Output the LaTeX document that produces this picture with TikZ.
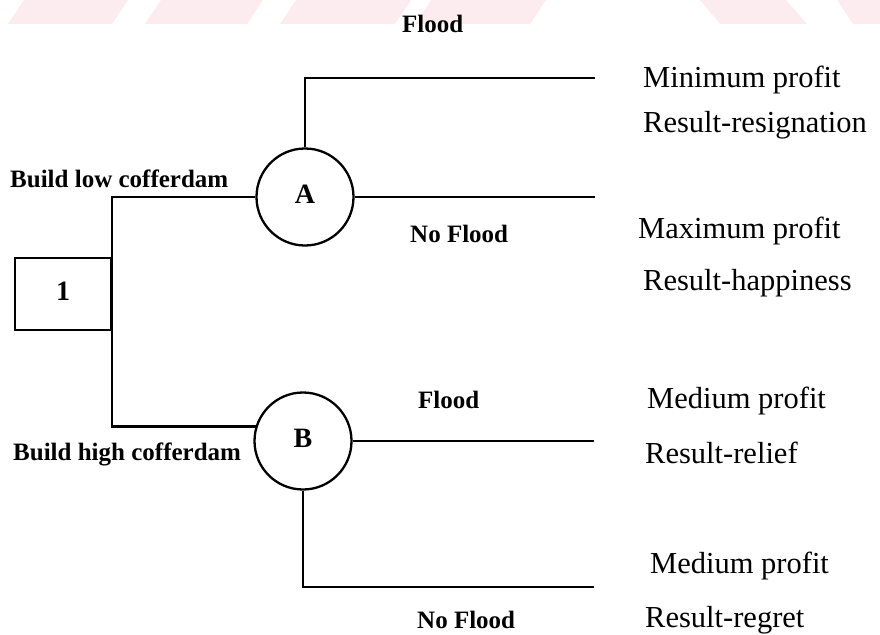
\documentclass[tikz,border=0pt]{standalone}
\usepackage{fontspec}
\setmainfont{Liberation Serif}
\definecolor{stripe}{HTML}{FDECEF}
\tikzset{
  branch/.style={line width=2.3pt},
  chance/.style={draw, circle, line width=2.3pt, minimum size=97pt, inner sep=0pt, font=\fontsize{28}{32}\selectfont\bfseries},
  decision/.style={draw, rectangle, line width=2.3pt, minimum width=96pt, minimum height=72pt, inner sep=0pt, font=\fontsize{28}{32}\selectfont\bfseries},
  act/.style={anchor=base west, inner sep=0pt, font=\fontsize{25}{30}\selectfont\bfseries},
  outcome/.style={anchor=base west, inner sep=0pt, font=\fontsize{30.5}{36}\selectfont},
}

\begin{document}
\begin{tikzpicture}[x=1pt, y=-1pt]
      \useasboundingbox (0,0) rectangle (880,634);
      % watermark
      \foreach \s/\e in {8/112, 145/247, 280/395, 415/530}
        \fill[stripe] (\s,24) -- (\s+16,0) -- (\e+16,0) -- (\e,24) -- cycle;
      \fill[stripe] (720,24) -- (700,0) -- (786,0) -- (807,24) -- cycle;
      \fill[stripe] (853,24) -- (837,0) -- (880,0) -- (880,24) -- cycle;
      % nodes
      \node[decision] (one) at (63,294) {\raisebox{6pt}{1}};
      \node[chance] (A) at (305,197) {\raisebox{6pt}{A}};
      \node[chance] (B) at (303,441) {\raisebox{6pt}{B}};
      \coordinate (A1) at (595,78);
      \coordinate (A2) at (595,197);
      \coordinate (B1) at (594,441);
      \coordinate (B2) at (594,587);
      % lines
      \draw[branch] (A.west) -- (A.west -| one.east) -- (B.163 -| one.east) -- (B.163);
      \draw[branch] (A.north) |- (A1);
      \draw[branch] (A.east) -- (A2);
      \draw[branch] (B.east) -- (B.east -| B1);
      \draw[branch] (B.south) |- (B2);
      % labels
      \node[act] (flood1) at (402,33) {Flood};
      \node[act] (low) at (10,187) {Build low cofferdam};
      \node[act] (noflood1) at (410,242) {No Flood};
      \node[act] (flood2) at (418,408) {Flood};
      \node[act] (high) at (13,460) {Build high cofferdam};
      \node[act] (noflood2) at (417,628) {No Flood};
      \node[outcome] (minp) at (643,87) {Minimum profit};
      \node[outcome] (resig) at (643,132) {Result-resignation};
      \node[outcome] (maxp) at (638,238) {Maximum profit};
      \node[outcome] (happy) at (643,290) {Result-happiness};
      \node[outcome] (medp1) at (647,408) {Medium profit};
      \node[outcome] (relief) at (645,463) {Result-relief};
      \node[outcome] (medp2) at (650,573) {Medium profit};
      \node[outcome] (regret) at (645,627) {Result-regret};
\end{tikzpicture}
\end{document}
